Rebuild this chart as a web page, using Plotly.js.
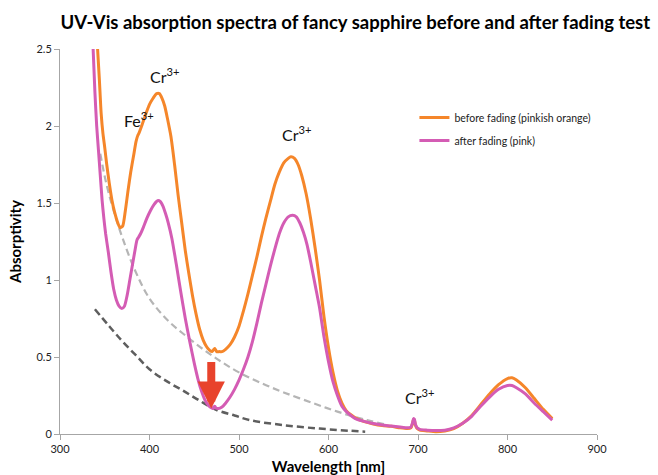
<!DOCTYPE html>
<html>
<head>
<meta charset="utf-8">
<script src="https://cdn.plot.ly/plotly-3.0.1.min.js"></script>
<style>html,body{margin:0;padding:0;background:#fff;}#chart{width:658px;height:475px;}</style>
</head>
<body>
<div id="chart"></div>
<script>
// Before fading (pinkish orange)
const beforeWl = [342,344,346,348,350,352,355,358,361,364,367,370,373,376,379,382,385,387,388,390,393,396,400,404,408,411,414,417,420,424,428,432,436,440,444,448,452,456,460,464,467,470,472,473,475,478,481,485,490,495,500,505,510,515,520,525,530,535,540,545,550,555,558,562,566,570,575,580,585,590,595,600,605,610,615,620,625,630,640,650,660,670,680,688,692,694,695,696,697,699,702,710,720,730,740,750,760,770,780,790,800,805,810,820,830,840,850];
const beforeAbs = [2.5,2.3,2.08,1.95,1.86,1.76,1.63,1.52,1.44,1.38,1.34,1.35,1.45,1.58,1.70,1.80,1.90,1.94,1.95,1.98,2.03,2.08,2.14,2.18,2.21,2.21,2.18,2.13,2.05,1.93,1.75,1.55,1.37,1.19,1.04,0.90,0.78,0.68,0.61,0.565,0.545,0.535,0.55,0.555,0.535,0.535,0.535,0.55,0.58,0.63,0.70,0.80,0.91,1.03,1.15,1.28,1.40,1.51,1.62,1.70,1.76,1.79,1.80,1.79,1.75,1.68,1.56,1.40,1.21,1.00,0.76,0.56,0.40,0.28,0.20,0.15,0.125,0.105,0.08,0.065,0.055,0.05,0.04,0.035,0.04,0.07,0.095,0.09,0.06,0.035,0.025,0.02,0.015,0.02,0.035,0.07,0.12,0.19,0.26,0.32,0.36,0.365,0.35,0.30,0.23,0.16,0.10];

// After fading (pink)
const afterWl = [337,339,341,343,345,347,349,351,354,357,360,363,366,369,372,375,378,381,384,386,388,390,393,397,401,405,409,412,415,418,421,425,430,435,440,445,450,454,458,462,466,469,471,472,473,474,477,481,485,490,495,500,505,510,515,520,525,530,535,540,545,550,555,560,564,568,572,576,580,585,590,595,600,605,610,615,620,625,630,640,650,660,670,680,688,692,694,695,696,697,699,702,710,720,730,740,750,760,770,780,790,800,805,810,820,830,840,850];
const afterAbs = [2.5,2.22,2.0,1.84,1.68,1.52,1.40,1.30,1.18,1.05,0.94,0.87,0.83,0.815,0.83,0.90,1.00,1.10,1.20,1.26,1.28,1.30,1.34,1.40,1.45,1.49,1.515,1.51,1.48,1.43,1.37,1.27,1.10,0.92,0.75,0.60,0.46,0.36,0.28,0.22,0.185,0.17,0.165,0.175,0.18,0.17,0.165,0.175,0.2,0.24,0.29,0.35,0.42,0.50,0.60,0.72,0.85,0.97,1.09,1.20,1.30,1.37,1.41,1.42,1.41,1.37,1.31,1.23,1.12,0.97,0.82,0.63,0.47,0.34,0.25,0.18,0.145,0.12,0.10,0.082,0.068,0.058,0.052,0.045,0.04,0.045,0.075,0.10,0.095,0.065,0.04,0.03,0.025,0.022,0.025,0.04,0.07,0.115,0.18,0.24,0.29,0.315,0.315,0.30,0.26,0.20,0.145,0.09];

// Background (scattering) baselines
const baseLightWl = [345,352,360,370,384,400,420,440,460,480,500,525,550,583,610,643,665];
const baseLightAbs = [1.82,1.62,1.45,1.27,1.06,0.88,0.74,0.64,0.55,0.47,0.40,0.33,0.27,0.20,0.145,0.09,0.06];
const baseDarkWl = [339,355,370,385,400,420,438,455,475,495,512,549,590,624,641];
const baseDarkAbs = [0.81,0.70,0.60,0.51,0.42,0.34,0.28,0.22,0.156,0.12,0.09,0.058,0.035,0.021,0.015];

const xTicks = [300,400,500,600,700,800,900];
const yTicks = [0,0.5,1,1.5,2,2.5];
const yTickText = ['0','0.5','1','1.5','2','2.5'];

const FONT = 'Lato, "Open Sans", sans-serif';

const traces = [
  {x: baseLightWl, y: baseLightAbs, mode:'lines', showlegend:false, hoverinfo:'skip',
   line:{color:'#b5b5b5', width:2.2, dash:'7px,4px', shape:'spline', smoothing:1}},
  {x: baseDarkWl, y: baseDarkAbs, mode:'lines', showlegend:false, hoverinfo:'skip',
   line:{color:'#5e5e5e', width:2.5, dash:'7px,4px', shape:'spline', smoothing:1}},
  {x: beforeWl, y: beforeAbs, mode:'lines', name:'before fading (pinkish orange)', legendgroup:'a',
   line:{color:'#F5862A', width:3, shape:'spline', smoothing:0.6}},
  {x: afterWl, y: afterAbs, mode:'lines', name:'after fading (pink)', legendgroup:'b',
   line:{color:'#D45CB4', width:3, shape:'spline', smoothing:0.6}}
];

const labFont = {family: FONT, size: 16, color:'#111'};
const layout = {
  width:658, height:475,
  margin:{l:60, r:61, t:49, b:41},
  paper_bgcolor:'#fff', plot_bgcolor:'#fff',
  title:{text:'<b>UV-Vis absorption spectra of fancy sapphire before and after fading test</b>',
         font:{family:FONT, size:18.5, color:'#000'}, xref:'container', x:0.54, xanchor:'center', yref:'container', y:0.953, yanchor:'middle'},
  xaxis:{range:[300,900], tickvals:xTicks, ticktext:xTicks.map(String), showgrid:false, zeroline:false,
         showline:true, linecolor:'#a6a6a6', linewidth:1, ticks:'outside', ticklen:5, tickcolor:'#a6a6a6',
         tickfont:{family:FONT, size:11, color:'#222'},
         title:{text:'<b>Wavelength [nm]</b>', font:{family:FONT, size:15, color:'#000'}, standoff:7}},
  yaxis:{range:[0,2.5], tickvals:yTicks, ticktext:yTickText, showgrid:false, zeroline:false,
         showline:true, linecolor:'#a6a6a6', linewidth:1, ticks:'outside', ticklen:5, tickcolor:'#a6a6a6',
         tickfont:{family:FONT, size:11, color:'#222'},
         title:{text:'<b>Absorptivity</b>', font:{family:FONT, size:15, color:'#000'}, standoff:11}},
  legend:{x:0.66, xanchor:'left', y:0.86, yanchor:'top', bgcolor:'rgba(0,0,0,0)',
          font:{family:FONT, size:10.5, color:'#222'}, tracegroupgap:4, itemwidth:30},
  showlegend:true,
  annotations:[
    {x:417, y:2.33, xref:'x', yref:'y', text:'Cr<sup>3+</sup>', showarrow:false, font:labFont},
    {x:388.5, y:2.04, xref:'x', yref:'y', text:'Fe<sup>3+</sup>', showarrow:false, font:labFont},
    {x:564, y:1.95, xref:'x', yref:'y', text:'Cr<sup>3+</sup>', showarrow:false, font:labFont},
    {x:702, y:0.245, xref:'x', yref:'y', text:'Cr<sup>3+</sup>', showarrow:false, font:labFont},
    {x:469, y:0.165, xref:'x', yref:'y', ax:0, ay:-48, text:'', showarrow:true,
     arrowhead:2, arrowsize:0.68, arrowwidth:8, arrowcolor:'#E8432C'}
  ]
};

Plotly.newPlot('chart', traces, layout, {displayModeBar:false, staticPlot:true});
</script>
</body>
</html>
